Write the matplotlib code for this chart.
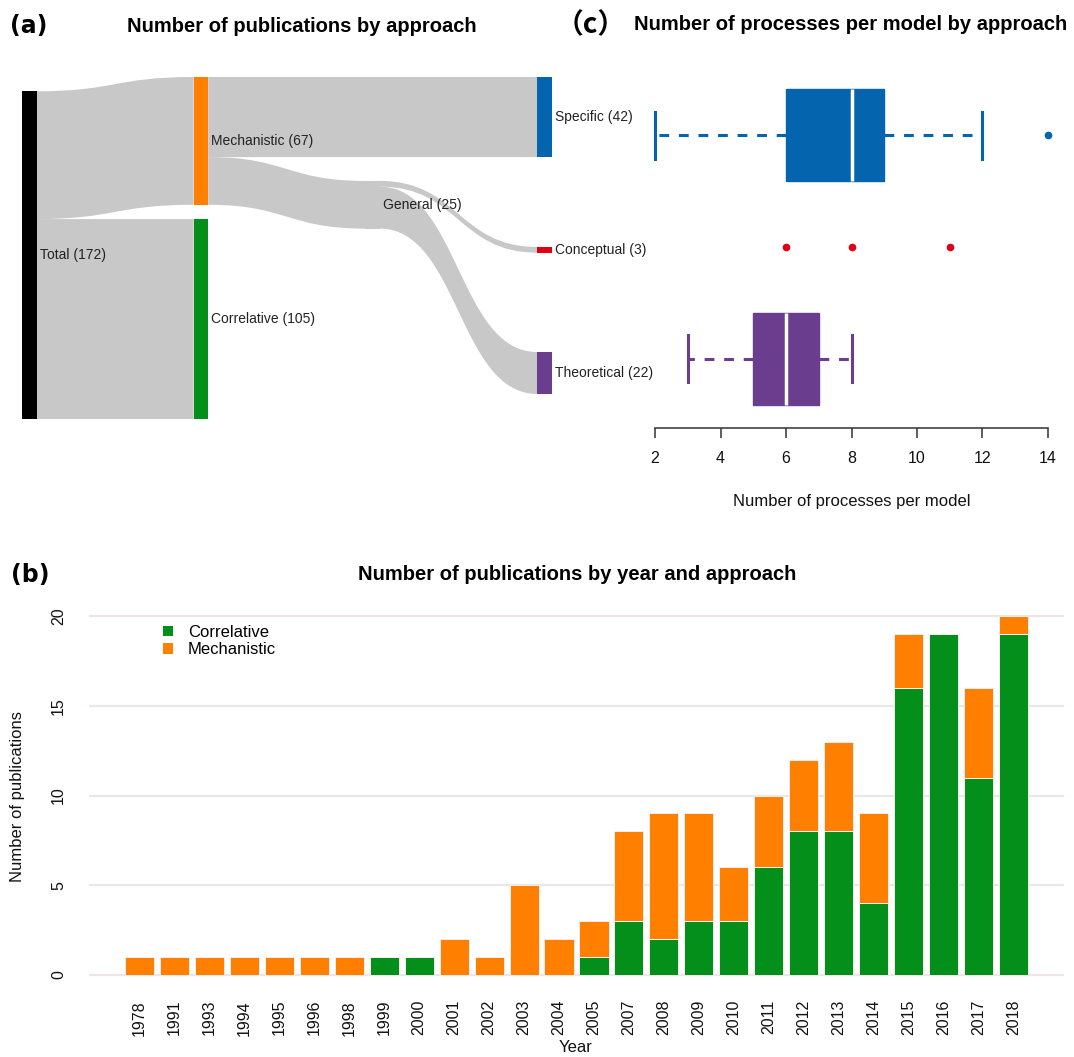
import numpy as np
import matplotlib
matplotlib.use("Agg")
import matplotlib.pyplot as plt
from matplotlib.path import Path
from matplotlib.patches import PathPatch, Rectangle, Patch

# ---- data ----
years = ["1978", "1991", "1993", "1994", "1995", "1996", "1998", "1999", "2000",
         "2001", "2002", "2003", "2004", "2005", "2007", "2008", "2009", "2010",
         "2011", "2012", "2013", "2014", "2015", "2016", "2017", "2018"]
correlative = [0, 0, 0, 0, 0, 0, 0, 1, 1, 0, 0, 0, 0, 1, 3, 2, 3, 3, 6, 8, 8, 4, 16, 19, 11, 19]
mechanistic = [1, 1, 1, 1, 1, 1, 1, 0, 0, 2, 1, 5, 2, 2, 5, 7, 6, 3, 4, 4, 5, 5, 3, 0, 5, 1]

node_names = ["Total", "Mechanistic", "Correlative", "General", "Specific", "Conceptual", "Theoretical"]
link_source = [0, 0, 1, 1, 3, 3]
link_target = [1, 2, 4, 3, 5, 6]
link_value = [67, 105, 42, 25, 3, 22]

specific_stats = dict(whislo=2, q1=6, med=8, q3=9, whishi=12, fliers=[14])
theoretical_stats = dict(whislo=3, q1=5, med=6, q3=7, whishi=8, fliers=[])
conceptual_points = [6, 8, 11]

# ---- style / layout ----
W, H = 1074, 1057
C_GREEN = "#038F1A"
C_ORANGE = "#FF7F00"
C_BLUE = "#0464AE"
C_PURPLE = "#6A3D8F"
C_RED = "#E00015"
C_LINK = "#C8C8C8"

node_col = [0, 1, 1, 2, 3, 3, 3]
node_top = [7.5, 0, 74.5, 54.5, 0, 89.1, 144.2]
node_color = ["black", C_ORANGE, C_GREEN, C_LINK, C_BLUE, C_RED, C_PURPLE]

plt.rcParams["font.family"] = ["Liberation Sans", "DejaVu Sans"]


def rect(l, t, r, b):
    return [l / W, 1 - b / H, (r - l) / W, (b - t) / H]


def ftext(x, y, s, **kw):
    kw.setdefault("ha", "center")
    kw.setdefault("va", "center")
    fig.text(x / W, 1 - y / H, s, **kw)


fig = plt.figure(figsize=(W / 100, H / 100), dpi=100)

# ================= (a) sankey =================
col_px = 171.67
nw = 14.5 / col_px
ax_a = fig.add_axes(rect(22, 77, 22 + col_px * 3 + 14.5, 77 + 179.5 * 1.907))
ax_a.set_xlim(0, 3 + nw)
ax_a.set_ylim(179.5, 0)
ax_a.axis("off")

n = len(node_names)
node_in = [sum(v for s, t, v in zip(link_source, link_target, link_value) if t == i) for i in range(n)]
node_out = [sum(v for s, t, v in zip(link_source, link_target, link_value) if s == i) for i in range(n)]
node_val = [max(a, b) for a, b in zip(node_in, node_out)]

# stack links on each node, ordered by the position of the node at the other end
out_off = list(node_top)
in_off = list(node_top)
src_y, tgt_y = {}, {}
for k in sorted(range(len(link_value)), key=lambda k: node_top[link_target[k]]):
    s = link_source[k]
    src_y[k] = out_off[s]
    out_off[s] += link_value[k]
for k in sorted(range(len(link_value)), key=lambda k: node_top[link_source[k]]):
    t = link_target[k]
    tgt_y[k] = in_off[t]
    in_off[t] += link_value[k]

for k, v in enumerate(link_value):
    x0 = node_col[link_source[k]] + nw
    x1 = node_col[link_target[k]]
    xm = (x0 + x1) / 2
    s0, t0 = src_y[k], tgt_y[k]
    s1, t1 = s0 + v, t0 + v
    verts = [(x0, s0), (xm, s0), (xm, t0), (x1, t0), (x1, t1),
             (xm, t1), (xm, s1), (x0, s1), (x0, s0)]
    codes = [Path.MOVETO, Path.CURVE4, Path.CURVE4, Path.CURVE4, Path.LINETO,
             Path.CURVE4, Path.CURVE4, Path.CURVE4, Path.CLOSEPOLY]
    ax_a.add_patch(PathPatch(Path(verts, codes), facecolor=C_LINK,
                             edgecolor="none", zorder=1))

for i, name in enumerate(node_names):
    ax_a.add_patch(Rectangle((node_col[i], node_top[i]), nw, node_val[i],
                             facecolor=node_color[i], edgecolor="none", zorder=2))
    ax_a.text(node_col[i] + nw + 3 / col_px, node_top[i] + node_val[i] / 2,
              f"{name} ({node_val[i]})", ha="left", va="center",
              fontsize=10, color="#222222", zorder=3)

ftext(10, 26, "(a)", ha="left", fontsize=17, fontweight="bold", family="DejaVu Sans")
ftext(301.5, 27, "Number of publications by approach", fontsize=14.5, fontweight="bold")

# ================= (c) boxplot =================
ax_c = fig.add_axes(rect(639.3, 65.6, 1063.7, 428.4))
ax_c.patch.set_alpha(0)
for stats, pos, col in [(specific_stats, 3, C_BLUE), (theoretical_stats, 1, C_PURPLE)]:
    ax_c.bxp([stats], positions=[pos], widths=0.82, capwidths=0.42,
             orientation="horizontal", patch_artist=True, showfliers=True,
             boxprops=dict(facecolor=col, edgecolor=col, linewidth=1),
             medianprops=dict(color="white", linewidth=2.5),
             whiskerprops=dict(color=col, linewidth=2.2, linestyle=(0, (3.2, 3.2))),
             capprops=dict(color=col, linewidth=2.2),
             flierprops=dict(marker="o", markerfacecolor=col, markeredgecolor=col,
                             markersize=4.5))
ax_c.plot(conceptual_points, [2] * len(conceptual_points), "o", color=C_RED,
          markersize=4.5, linestyle="none")
ax_c.set_xlim(1.52, 14.48)
ax_c.set_ylim(0.38, 3.62)
ax_c.set_xticks([2, 4, 6, 8, 10, 12, 14])
ax_c.set_yticks([])
for sp in ["top", "left", "right"]:
    ax_c.spines[sp].set_visible(False)
ax_c.spines["bottom"].set_bounds(2, 14)
ax_c.spines["bottom"].set_color("#333333")
ax_c.spines["bottom"].set_linewidth(1.1)
ax_c.tick_params(axis="x", length=7.5, width=1.1, color="#333333",
                 labelsize=11.5, pad=9, labelcolor="#111111")
ftext(852, 501, "Number of processes per model", fontsize=12, color="#111111")
ftext(556, 25, "（c）", ha="left", fontsize=20, fontweight="bold",
      family=["Noto Sans CJK SC", "DejaVu Sans"])
ftext(851, 25, "Number of processes per model by approach", fontsize=14.5, fontweight="bold")

# ================= (b) stacked bars =================
ax_b = fig.add_axes(rect(89, 601.6, 1064, 989.4))
x = np.arange(len(years)) * 1.2 + 0.7
ax_b.bar(x, correlative, width=1, color=C_GREEN, edgecolor="#F4EEEE",
         linewidth=0.7, zorder=2)
ax_b.bar(x, mechanistic, width=1, bottom=correlative, color=C_ORANGE,
         edgecolor="#F4EEEE", linewidth=0.7, zorder=2)
ax_b.set_xlim(-1.04, 32.44)
ax_b.set_ylim(-0.8, 20.8)
ax_b.set_yticks([0, 5, 10, 15, 20])
ax_b.grid(axis="y", color="#EDE6E6", linewidth=1.6, zorder=0)
ax_b.set_axisbelow(True)
for sp in ax_b.spines.values():
    sp.set_visible(False)
ax_b.set_xticks(x)
ax_b.set_xticklabels(years, rotation=90)
ax_b.tick_params(axis="x", length=0, pad=7.6, labelsize=11.5, labelcolor="#111111")
ax_b.tick_params(axis="y", length=0, pad=16.5, labelsize=11.5, labelcolor="#111111")
for lab in ax_b.get_yticklabels():
    lab.set_rotation(90)
    lab.set_va("center")

handles = [Patch(facecolor=C_GREEN, edgecolor="none"),
           Patch(facecolor=C_ORANGE, edgecolor="none")]
ax_b.legend(handles, ["Correlative", "Mechanistic"], loc="upper left",
            bbox_to_anchor=(163 / W, 1 - 625 / H), bbox_transform=fig.transFigure,
            frameon=False, fontsize=12, handlelength=0.6, handleheight=0.6,
            handletextpad=0.9, labelspacing=0.15, borderaxespad=0, borderpad=0)

ftext(18, 796, "Number of publications", rotation=90, fontsize=12, color="#111111")
ftext(576, 1047, "Year", fontsize=12, color="#111111")
ftext(11, 575, "(b)", ha="left", fontsize=17, fontweight="bold", family="DejaVu Sans")
ftext(577, 575, "Number of publications by year and approach", fontsize=14.5, fontweight="bold")

fig.savefig("out.png", dpi=100)
